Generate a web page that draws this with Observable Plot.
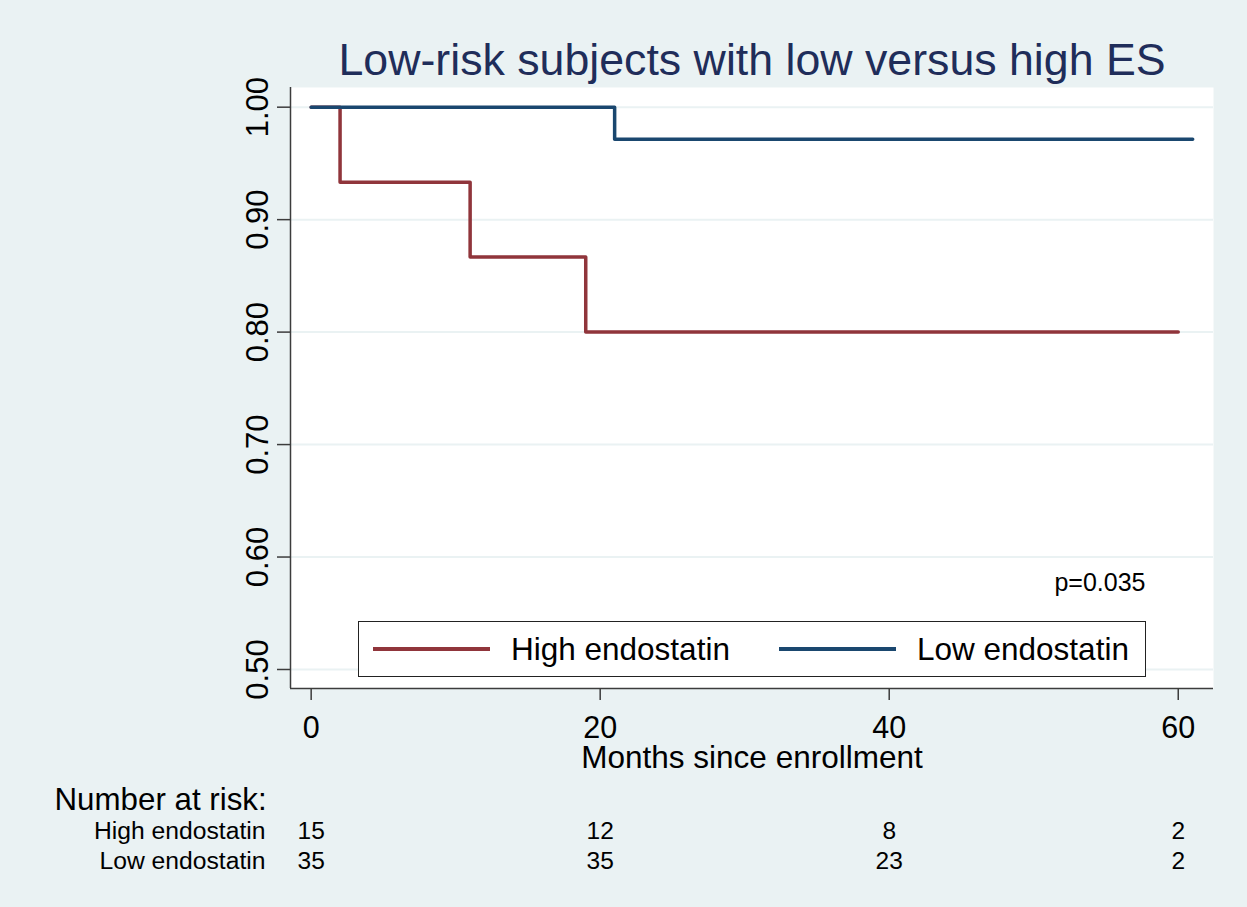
<!DOCTYPE html>
<html>
<head>
<meta charset="utf-8">
<script src="https://cdn.jsdelivr.net/npm/d3@7"></script>
<script src="https://cdn.jsdelivr.net/npm/@observablehq/plot@0.6"></script>
<style>
  html, body { margin: 0; padding: 0; background: #eaf2f3; }
  #wrap { position: relative; width: 1247px; height: 907px; overflow: hidden; font-family: "Liberation Sans", Arial, sans-serif; }
  #legend { position: absolute; left: 358px; top: 621px; width: 786px; height: 54px; border: 1.5px solid #222; background: #fff; box-sizing: content-box; font-size: 31.5px; color: #000; }
  #legend .item { position: absolute; top: 0; height: 54px; display: flex; align-items: center; }
  #legend .sw { display: inline-block; width: 117px; height: 3.5px; margin-right: 21px; }
</style>
</head>
<body>
<div id="wrap"></div>
<script>
// ---- data ----
const highTime = [0, 2, 11, 19, 60];
const highSurv = [1.0, 0.9333, 0.8667, 0.80, 0.80];
const lowTime = [0, 21, 61];
const lowSurv = [1.0, 0.9714, 0.9714];
const groups = ["High endostatin", "Low endostatin"];
const colors = ["#90353b", "#1a476f"];
const riskTimes = [0, 20, 40, 60];
const highRisk = [15, 12, 8, 2];
const lowRisk = [35, 35, 23, 2];
const xTicks = [0, 20, 40, 60];
const yTicks = [0.5, 0.6, 0.7, 0.8, 0.9, 1.0];
const titleText = "Low-risk subjects with low versus high ES";
const xLabel = "Months since enrollment";
const pText = "p=0.035";

const xDomain = [-1.43, 62.44];
const yDomain = [0.4831, 1.0175];

const high = highTime.map((t, i) => ({t, s: highSurv[i]}));
const low = lowTime.map((t, i) => ({t, s: lowSurv[i]}));
const highRows = riskTimes.map((t, i) => ({t, n: highRisk[i]}));
const lowRows = riskTimes.map((t, i) => ({t, n: lowRisk[i]}));

const font = "Liberation Sans, Arial, sans-serif";
const axisColor = "#3c3c3c";

const chart = Plot.plot({
  width: 1247,
  height: 907,
  marginLeft: 290,
  marginRight: 34,
  marginTop: 87,
  marginBottom: 219,
  style: {background: "transparent", fontFamily: font, overflow: "visible"},
  x: {domain: xDomain, axis: null},
  y: {domain: yDomain, axis: null},
  marks: [
    Plot.frame({fill: "white", stroke: "none"}),
    Plot.gridY(yTicks, {stroke: "#eaf2f3", strokeOpacity: 1, strokeWidth: 2}),
    Plot.line(high, {x: "t", y: "s", curve: "step-after", stroke: colors[0], strokeWidth: 3.5}),
    Plot.line(low, {x: "t", y: "s", curve: "step-after", stroke: colors[1], strokeWidth: 3.5}),
    // axis lines
    Plot.ruleX([xDomain[0]], {stroke: axisColor, strokeWidth: 1.5}),
    Plot.ruleY([yDomain[0]], {stroke: axisColor, strokeWidth: 1.5}),
    // tick marks
    Plot.axisX({ticks: xTicks, tickSize: 12, tickFormat: () => "", stroke: axisColor, strokeWidth: 1.5, label: null}),
    Plot.axisY({ticks: yTicks, tickSize: 13, tickFormat: () => "", stroke: axisColor, strokeWidth: 1.5, label: null}),
    // tick labels
    Plot.text(xTicks, {x: d => d, text: d => String(d), frameAnchor: "bottom", dy: 49, lineAnchor: "bottom", fontSize: 30.5, fill: "#000"}),
    Plot.text(yTicks, {y: d => d, text: d => d3.format(".2f")(d), frameAnchor: "left", dx: -23, rotate: -90, textAnchor: "middle", lineAnchor: "bottom", fontSize: 31, fill: "#000"}),
    // axis title
    Plot.text([xLabel], {frameAnchor: "bottom", dy: 79, lineAnchor: "bottom", fontSize: 31.5, fill: "#000"}),
    // title
    Plot.text([titleText], {frameAnchor: "top", dy: -13, lineAnchor: "bottom", fontSize: 44.7, fill: "#1f2d5a"}),
    // p value
    Plot.text([pText], {frameAnchor: "bottom-right", dx: -68, dy: -98, textAnchor: "end", lineAnchor: "bottom", fontSize: 25, fill: "#000"}),
    // number at risk
    Plot.text(["Number at risk:"], {frameAnchor: "bottom-left", dx: -236, dy: 121, textAnchor: "start", lineAnchor: "bottom", fontSize: 31.3, fill: "#000"}),
    Plot.text([groups[0]], {frameAnchor: "bottom-left", dx: -25, dy: 150, textAnchor: "end", lineAnchor: "bottom", fontSize: 24.7, fill: "#000"}),
    Plot.text([groups[1]], {frameAnchor: "bottom-left", dx: -25, dy: 180, textAnchor: "end", lineAnchor: "bottom", fontSize: 24.7, fill: "#000"}),
    Plot.text(highRows, {x: "t", text: "n", frameAnchor: "bottom", dy: 150, lineAnchor: "bottom", fontSize: 24.5, fill: "#000"}),
    Plot.text(lowRows, {x: "t", text: "n", frameAnchor: "bottom", dy: 180, lineAnchor: "bottom", fontSize: 24.5, fill: "#000"})
  ]
});
document.getElementById("wrap").appendChild(chart);

// legend
const legend = document.createElement("div");
legend.id = "legend";
const lx = [14, 420];
groups.forEach((g, i) => {
  const item = document.createElement("div");
  item.className = "item";
  item.style.left = lx[i] + "px";
  const sw = document.createElement("span");
  sw.className = "sw";
  sw.style.background = colors[i];
  item.appendChild(sw);
  item.appendChild(document.createTextNode(g));
  legend.appendChild(item);
});
document.getElementById("wrap").appendChild(legend);
</script>
</body>
</html>
